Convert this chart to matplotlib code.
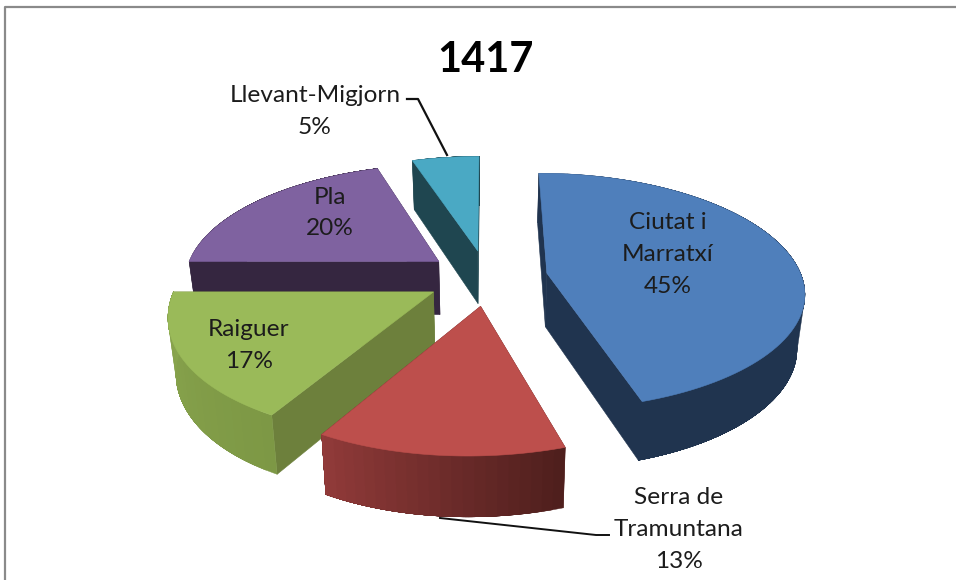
import numpy as np
import matplotlib
matplotlib.use('Agg')
import matplotlib.pyplot as plt
from matplotlib.collections import PolyCollection
from matplotlib.colors import to_rgb

# Datos
title = '1417'
names = ['Ciutat i\nMarratxí', 'Serra de\nTramuntana', 'Raiguer', 'Pla', 'Llevant-Migjorn']
values = [45, 13, 17, 20, 5]

# Colores: cara superior, pared radial, pared exterior (inicio, fin)
top_colors = ['#4f7fbb', '#bd4f4c', '#9aba59', '#7f62a0', '#4aa9c4']
cut_colors = ['#20344f', '#5a2523', '#6d803c', '#352640', '#1f4650']
rim_start = ['#20344f', '#4f1f1d', '#7d9845', '#352640', '#1f4650']
rim_end = ['#20344f', '#923b3a', '#8aa64e', '#352640', '#1f4650']

# Posicion de las etiquetas (pixeles)
label_pos = [(668, 254.5), (679, 529.5), (249, 345.5), (330, 213), (315, 111.5)]

# Parametros de la perspectiva
cx, cy = 486.5, 277
a, b = 255, 116.6
k = 0.1546
shear = 8
explode = 0.239
h = 53.7
shrink = 0.975
grow = 0.04


def project(u, v):
    w = 1 + k * v
    return cx + a * u / w - shear * np.minimum(v, 0) ** 2, cy - b * v / w


def lower(x, y):
    return cx + shrink * (x - cx), y + h + grow * (y - cy)


def mix(c1, c2, t):
    return tuple((1 - t) * p + t * q for p, q in zip(to_rgb(c1), to_rgb(c2)))


fig = plt.figure(figsize=(9.56, 5.8), dpi=100)
ax = fig.add_axes([0, 0, 1, 1])
ax.set_xlim(0, 956)
ax.set_ylim(580, 0)
ax.axis('off')

# Marco del grafico
ax.plot([5.5, 5.5, 956], [580, 7, 7], color='#8a8a8a', lw=1.6)

# Angulos de cada porcion, en sentido horario desde arriba
edges = np.radians(np.cumsum([0] + values) * 360 / sum(values))

slices = []
for i in range(len(values)):
    t0, t1 = edges[i], edges[i + 1]
    mid = (t0 + t1) / 2
    ou, ov = explode * np.sin(mid), explode * np.cos(mid)
    tt = np.linspace(t0, t1, 90)
    rx, ry = project(ou + np.sin(tt), ov + np.cos(tt))
    px, py = project(ou, ov)
    slices.append((rx, ry, px, py))

# Orden de dibujo: de atras hacia adelante
for i in [4, 3, 0, 2, 1]:
    rx, ry, px, py = slices[i]
    lx, ly = lower(rx, ry)
    plx, ply = lower(px, py)
    # paredes radiales
    for j in [0, -1]:
        wall = [(px, py), (rx[j], ry[j]), (lx[j], ly[j]), (plx, ply)]
        ax.add_collection(PolyCollection([wall], facecolors=cut_colors[i],
                                         edgecolors=cut_colors[i], linewidths=0.4))
    # pared exterior: bandas solapadas para que no se vean costuras
    bands = np.arange(0, len(rx) - 1, 4)
    for j in bands:
        band = list(zip(rx[j:], ry[j:])) + list(zip(lx[j:], ly[j:]))[::-1]
        col = mix(rim_start[i], rim_end[i], j / (len(rx) - 2))
        ax.add_collection(PolyCollection([band], facecolors=[col], edgecolors=[col], linewidths=0.3))
    # cara superior
    top = [(px, py)] + list(zip(rx, ry))
    ax.add_collection(PolyCollection([top], facecolors=top_colors[i],
                                     edgecolors=top_colors[i], linewidths=0.4))

# Lineas guia
ax.plot([407, 418, 447], [99, 99, 155], color='#111111', lw=1.6)
ax.plot([440, 596, 609], [518, 535, 535], color='#111111', lw=1.4)

# Etiquetas
for name, val, (x, y) in zip(names, values, label_pos):
    ax.text(x, y, f'{name}\n{val}%', ha='center', va='center', family='Lato',
            fontsize=17.6, color='#1c1c1c', linespacing=1.62)

ax.text(485, 60.5, title, ha='center', va='center', family='Lato',
        fontsize=30, fontweight='bold', color='black')

plt.savefig('out.png', dpi=100)
